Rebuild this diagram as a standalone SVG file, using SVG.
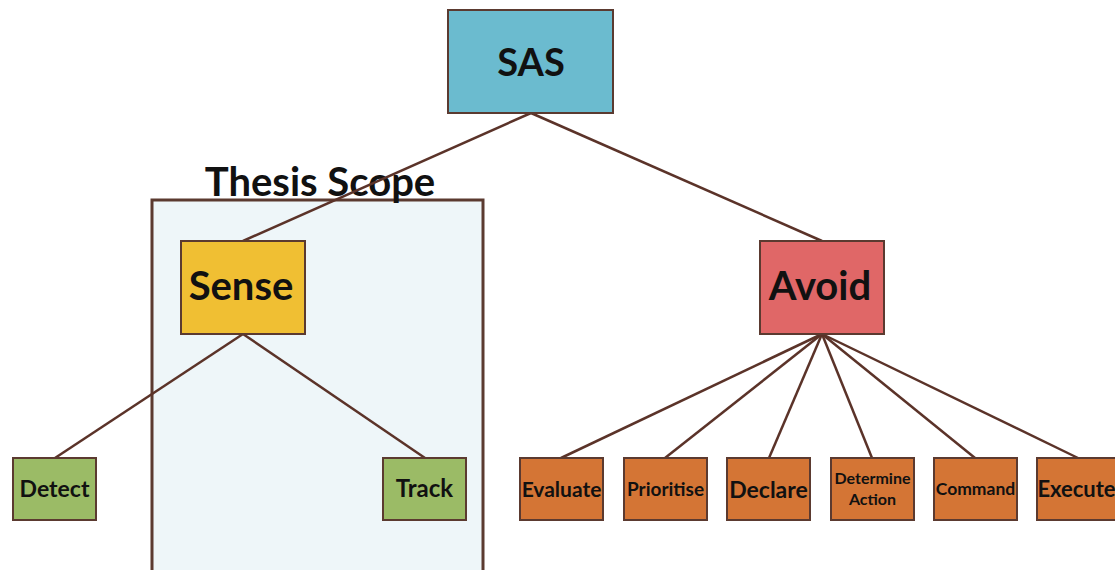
<svg xmlns="http://www.w3.org/2000/svg" width="1115" height="570" viewBox="0 0 1115 570">
<style>
.box{stroke:#5b3a30;stroke-width:2}
.lbl{font-family:Lato,"Open Sans","Liberation Sans",sans-serif;font-weight:bold;fill:#111;text-anchor:middle}
.edge{stroke:#5b3329;stroke-width:2.5;fill:none}
</style>
<rect width="1115" height="570" fill="#fff"/>
<g id="scope">
<rect x="152" y="200" width="331" height="380" fill="#eef6f9" stroke="#5b3a30" stroke-width="3"/>
<text class="lbl" x="320" y="196" font-size="40">Thesis Scope</text>
</g>
<g id="connectors">
<line class="edge" x1="531" y1="113" x2="243" y2="241"/>
<line class="edge" x1="531" y1="113" x2="822" y2="241"/>
<line class="edge" x1="243" y1="334" x2="55" y2="458"/>
<line class="edge" x1="243" y1="334" x2="425" y2="458"/>
<line class="edge" x1="822" y1="334" x2="561" y2="458"/>
<line class="edge" x1="822" y1="334" x2="665" y2="458"/>
<line class="edge" x1="822" y1="334" x2="769" y2="458"/>
<line class="edge" x1="822" y1="334" x2="872" y2="458"/>
<line class="edge" x1="822" y1="334" x2="975" y2="458"/>
<line class="edge" x1="822" y1="334" x2="1078" y2="458"/>
</g>
<g id="sas"><rect class="box" x="448" y="10" width="165" height="103" fill="#6bbbcf"/><text class="lbl" x="531" y="76" font-size="38">SAS</text></g>
<g id="sense"><rect class="box" x="181" y="241" width="124" height="93" fill="#f0bf33"/><text class="lbl" x="241" y="300" font-size="40">Sense</text></g>
<g id="avoid"><rect class="box" x="760" y="241" width="124" height="93" fill="#e06767"/><text class="lbl" x="820" y="300" font-size="40">Avoid</text></g>
<g id="detect"><rect class="box" x="13" y="458" width="83" height="62" fill="#9bbb66"/><text class="lbl" x="54.5" y="497" font-size="23">Detect</text></g>
<g id="track"><rect class="box" x="383" y="458" width="83" height="62" fill="#9bbb66"/><text class="lbl" x="424.5" y="497" font-size="24">Track</text></g>
<g id="evaluate"><rect class="box" x="520" y="458" width="83" height="62" fill="#d47535"/><text class="lbl" x="561.5" y="497" font-size="21">Evaluate</text></g>
<g id="prioritise"><rect class="box" x="624" y="458" width="83" height="62" fill="#d47535"/><text class="lbl" x="665.5" y="496" font-size="19">Prioritise</text></g>
<g id="declare"><rect class="box" x="727" y="458" width="83" height="62" fill="#d47535"/><text class="lbl" x="768.5" y="498" font-size="23">Declare</text></g>
<g id="determine"><rect class="box" x="831" y="458" width="83" height="62" fill="#d47535"/><text class="lbl" x="872.5" y="484" font-size="16">Determine</text><text class="lbl" x="872.5" y="505" font-size="16">Action</text></g>
<g id="command"><rect class="box" x="934" y="458" width="83" height="62" fill="#d47535"/><text class="lbl" x="975.5" y="495" font-size="17.5">Command</text></g>
<g id="execute"><rect class="box" x="1037" y="458" width="83" height="62" fill="#d47535"/><text class="lbl" x="1076.5" y="497" font-size="22">Execute</text></g>
</svg>
